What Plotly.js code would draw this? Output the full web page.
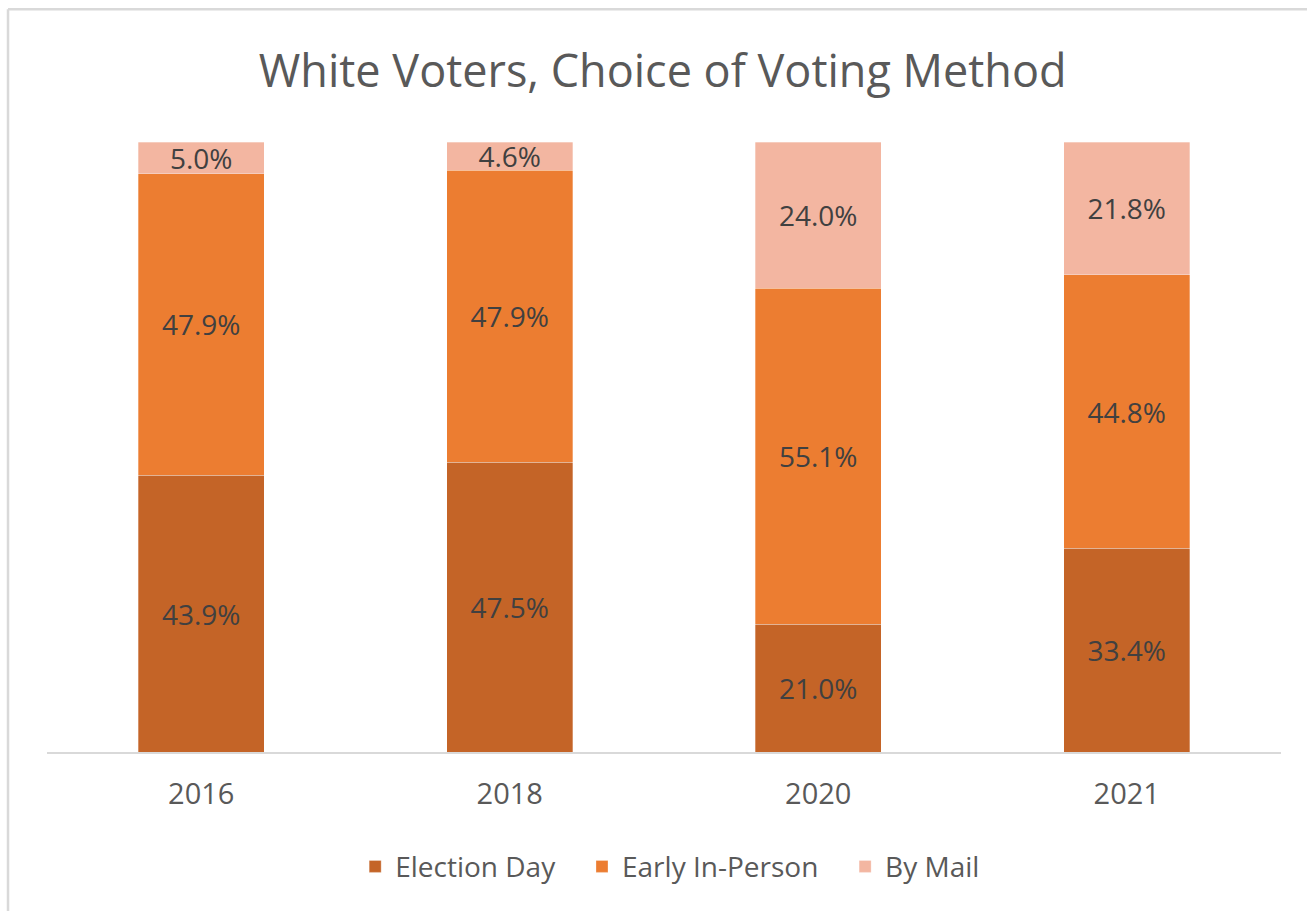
<!DOCTYPE html>
<html>
<head>
<meta charset="utf-8">
<script src="https://cdn.plot.ly/plotly-3.0.1.min.js"></script>
<style>
  html, body { margin: 0; padding: 0; background: #fff; overflow: hidden; }
  #chart { width: 1307px; height: 911px; }
</style>
</head>
<body>
<div id="chart"></div>
<script>
const years = ["2016", "2018", "2020", "2021"];
const electionDay = [43.9, 47.5, 21.0, 33.4];
const earlyInPerson = [47.9, 47.9, 55.1, 44.8];
const byMail = [5.0, 4.6, 24.0, 21.8];

const seriesNames = ["Election Day", "Early In-Person", "By Mail"];
const seriesColors = ["#C46427", "#EC7D31", "#F3B6A1"];
const seriesValues = [electionDay, earlyInPerson, byMail];

const FONT = "Open Sans, sans-serif";
const PAD = "\u00a0\u00a0\u00a0";

const traces = seriesValues.map((vals, i) => ({
  type: "bar",
  name: seriesNames[i] + (i < seriesNames.length - 1 ? PAD : ""),
  x: years,
  y: vals,
  text: vals.map(v => v.toFixed(1) + "%"),
  textposition: "inside",
  insidetextanchor: "middle",
  textangle: 0,
  constraintext: "none",
  insidetextfont: { family: FONT, size: 28, color: "#404040" },
  marker: { color: seriesColors[i], line: { width: 0.6, color: "rgba(255,255,255,0.5)" } },
  hoverinfo: "skip"
}));

const layout = {
  width: 1307,
  height: 911,
  barmode: "stack",
  barnorm: "percent",
  bargap: 0.59,
  paper_bgcolor: "#ffffff",
  plot_bgcolor: "#ffffff",
  margin: { l: 47, r: 26, t: 142, b: 159 },
  title: {
    text: "White Voters, Choice of Voting Method",
    font: { family: FONT, size: 45, color: "#595959" },
    x: 0.507, xanchor: "center",
    y: 0.922, yanchor: "middle"
  },
  xaxis: {
    type: "category",
    showgrid: false,
    showline: true,
    linecolor: "#d9d9d9",
    linewidth: 1.5,
    ticks: "outside",
    ticklen: 16,
    tickcolor: "rgba(0,0,0,0)",
    tickfont: { family: FONT, size: 29, color: "#595959" },
    zeroline: false
  },
  yaxis: {
    range: [0, 100],
    visible: false,
    showgrid: false,
    zeroline: false
  },
  showlegend: true,
  legend: {
    orientation: "h",
    x: 0.505, xanchor: "center",
    y: -0.188, yanchor: "middle",
    traceorder: "normal",
    font: { family: FONT, size: 28, color: "#595959" },
    itemwidth: 30
  },
  shapes: [
    { type: "line", xref: "paper", yref: "paper", x0: -0.0316, x1: 1.03, y0: 1.2175, y1: 1.2175,
      line: { color: "#d9d9d9", width: 2.5 } },
    { type: "line", xref: "paper", yref: "paper", x0: -0.0316, x1: -0.0316, y0: 1.2175, y1: -0.27,
      line: { color: "#d9d9d9", width: 2.5 } }
  ]
};

Plotly.newPlot("chart", traces, layout, { displayModeBar: false, staticPlot: true });
</script>
</body>
</html>
